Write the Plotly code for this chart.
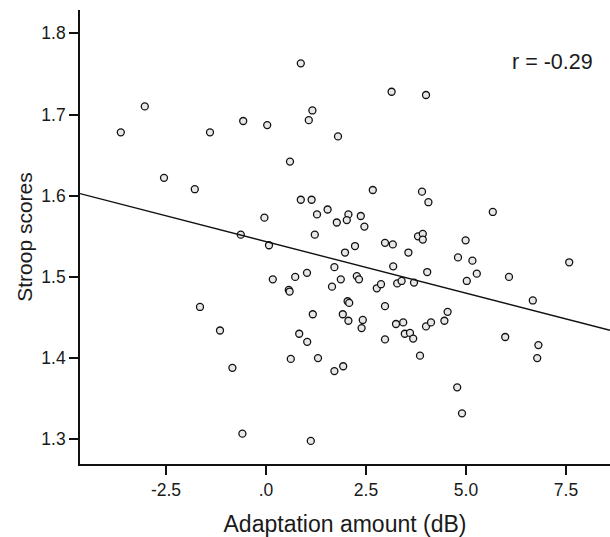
import plotly.graph_objects as go

# Data
adaptation_db = [-3.63, -3.03, -2.55, -1.78, -1.40, 0.87, 1.16, 1.07, -0.57, 0.03,
                 1.80, 0.60, 0.87, 1.14, 1.54, 1.275, 2.06, -0.04, 1.77, 2.02,
                 -0.63, 1.22, 0.075, 3.14, 4.00, 2.67, 3.90, 4.06, 2.37, 2.46,
                 2.975, 3.17, 3.80, 3.92, 3.92, 4.99, 2.225, 5.67, -1.65, -1.15,
                 1.975, 1.71, 1.87, 1.65, 1.025, 0.73, 0.17, 0.57, 0.59, 2.04,
                 2.08, 1.92, 2.06, 1.17, 0.83, 1.03, 0.62, 1.30, -0.84, 1.71,
                 1.93, -0.59, 1.12, 3.56, 4.80, 5.16, 5.27, 5.02, 3.18, 4.03,
                 2.27, 2.325, 2.77, 2.875, 3.28, 3.39, 3.70, 2.975, 2.42, 2.39,
                 3.25, 3.43, 3.47, 3.60, 3.68, 4.00, 4.125, 4.46, 4.54, 2.975,
                 3.85, 4.78, 4.90, 6.075, 7.58, 6.67, 5.98, 6.81, 6.78]
stroop_scores = [1.678, 1.710, 1.622, 1.608, 1.678, 1.763, 1.705, 1.693, 1.692, 1.687,
                 1.673, 1.642, 1.595, 1.595, 1.583, 1.577, 1.577, 1.573, 1.567, 1.570,
                 1.552, 1.552, 1.539, 1.728, 1.724, 1.607, 1.605, 1.592, 1.575, 1.562,
                 1.542, 1.540, 1.550, 1.553, 1.546, 1.545, 1.538, 1.580, 1.463, 1.434,
                 1.530, 1.512, 1.497, 1.488, 1.505, 1.500, 1.497, 1.484, 1.482, 1.470,
                 1.468, 1.454, 1.446, 1.454, 1.430, 1.420, 1.399, 1.400, 1.388, 1.384,
                 1.390, 1.307, 1.298, 1.530, 1.524, 1.520, 1.504, 1.495, 1.513, 1.506,
                 1.501, 1.497, 1.486, 1.491, 1.492, 1.495, 1.493, 1.464, 1.447, 1.437,
                 1.442, 1.444, 1.430, 1.431, 1.424, 1.439, 1.444, 1.446, 1.457, 1.423,
                 1.403, 1.364, 1.332, 1.500, 1.518, 1.471, 1.426, 1.416, 1.400]

fit_intercept = 1.5435
fit_slope = -0.0127
r_label = "r = -0.29"

x_range = [-4.65, 8.6]
y_range = [1.2696, 1.8287]
x_tickvals = [-2.5, 0.0, 2.5, 5.0, 7.5]
x_ticktext = ["-2.5", ".0", "2.5", "5.0", "7.5"]
y_tickvals = [1.3, 1.4, 1.5, 1.6, 1.7, 1.8]
y_ticktext = ["1.3", "1.4", "1.5", "1.6", "1.7", "1.8"]

FONT = "Liberation Sans, Arial, sans-serif"
INK = "#1a1a1a"

fig = go.Figure()

fig.add_trace(go.Scatter(
    x=adaptation_db, y=stroop_scores, mode="markers",
    marker=dict(size=7, color="#e8e8e8", line=dict(color="#111111", width=1.3)),
    showlegend=False, cliponaxis=False,
))

line_x = x_range
line_y = [fit_intercept + fit_slope * v for v in line_x]
fig.add_trace(go.Scatter(
    x=line_x, y=line_y, mode="lines",
    line=dict(color="#111111", width=1.4),
    showlegend=False,
))

fig.add_annotation(
    x=7.15, y=1.765, xref="x", yref="y", text=r_label, showarrow=False,
    font=dict(family=FONT, size=21.5, color=INK), xanchor="center", yanchor="middle",
)

fig.update_layout(
    width=610, height=537,
    margin=dict(l=80, r=0, t=10, b=73),
    paper_bgcolor="white", plot_bgcolor="white",
    font=dict(family=FONT, color=INK),
    xaxis=dict(
        range=x_range, tickvals=x_tickvals, ticktext=x_ticktext,
        showgrid=False, zeroline=False, showline=True, linecolor="#111111", linewidth=1.6,
        ticks="outside", ticklen=9, tickwidth=1.6, tickcolor="#111111",
        tickfont=dict(family=FONT, size=17.5, color=INK),
        title=dict(text="Adaptation amount (dB)", font=dict(family=FONT, size=23, color=INK), standoff=17),
    ),
    yaxis=dict(
        range=y_range, tickvals=y_tickvals, ticktext=y_ticktext,
        showgrid=False, zeroline=False, showline=True, linecolor="#111111", linewidth=1.6,
        ticks="outside", ticklen=9, tickwidth=1.6, tickcolor="#111111",
        tickfont=dict(family=FONT, size=17.5, color=INK),
        title=dict(text="Stroop scores", font=dict(family=FONT, size=21, color=INK), standoff=3),
    ),
)

fig.write_html(
    "out.html",
    config={"displayModeBar": False},
    post_script="document.body.style.margin='0px';document.body.style.overflow='hidden';",
)
